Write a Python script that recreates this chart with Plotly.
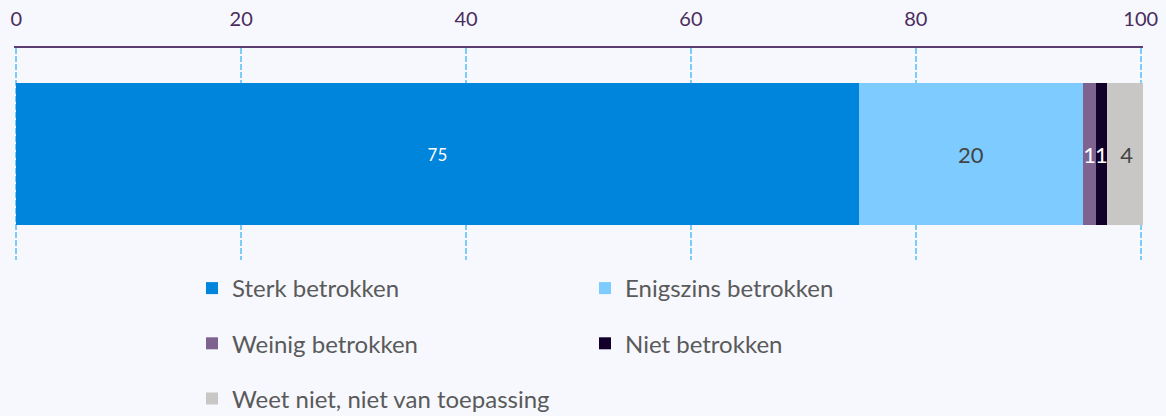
import plotly.graph_objects as go

category = ["Betrokkenheid"]
series_names = ["Sterk betrokken", "Enigszins betrokken", "Weinig betrokken",
                "Niet betrokken", "Weet niet, niet van toepassing"]
series_values = [74.9, 20.0, 1.1, 1.0, 3.5]
series_colors = ["#0085DC", "#7DCBFF", "#7E6290", "#12002B", "#C8C7C6"]
text_colors = ["#FFFFFF", "#444444", "#FFFFFF", "#FFFFFF", "#444444"]
text_sizes = [17, 22, 22, 22, 22]
legend_of = ["legend", "legend2", "legend", "legend2", "legend"]
tick_values = [0, 20, 40, 60, 80, 100]

fig = go.Figure()
for name, val, col, tcol, tsz, lg in zip(series_names, series_values, series_colors,
                                          text_colors, text_sizes, legend_of):
    fig.add_trace(go.Bar(
        y=category, x=[val], name=name, orientation="h",
        marker=dict(color=col, line=dict(width=0)),
        texttemplate="%{x:.0f}", textposition="inside", insidetextanchor="middle",
        constraintext="none",
        textfont=dict(color=tcol, size=tsz, family="Lato"),
        legend=lg, legendgroup=name, hoverinfo="skip",
    ))

legend_common = dict(
    orientation="v", xref="container", yref="container",
    xanchor="left", yanchor="top", tracegroupgap=21,
    font=dict(family="Lato", size=24, color="#5A5A5A"),
    bgcolor="rgba(0,0,0,0)", itemclick=False, itemdoubleclick=False,
)

fig.update_layout(
    width=1166, height=416,
    barmode="stack", bargap=0.33,
    paper_bgcolor="#F6F8FD", plot_bgcolor="#F6F8FD",
    margin=dict(l=14, r=23, t=48, b=156, autoexpand=False),
    font=dict(family="Lato"),
    xaxis=dict(
        side="top", range=[-0.2, 100.2], tickvals=tick_values,
        showgrid=True, gridcolor="#7DCBF7", griddash="6px,2px", gridwidth=1.5,
        zeroline=False, showline=True, linecolor="#5B3F73", linewidth=2,
        tickfont=dict(family="Lato", size=20, color="#4A2C5E"),
        ticks="", ticklabelstandoff=12, fixedrange=True,
    ),
    yaxis=dict(visible=False, fixedrange=True),
    legend=dict(x=192 / 1166, y=1 - 266 / 416, **legend_common),
    legend2=dict(x=585 / 1166, y=1 - 266 / 416, **legend_common),
    showlegend=True,
)

fig.write_html(
    "out.html",
    config={"displayModeBar": False},
    post_script="document.body.style.margin='0';document.body.style.background='#F6F8FD';",
)
